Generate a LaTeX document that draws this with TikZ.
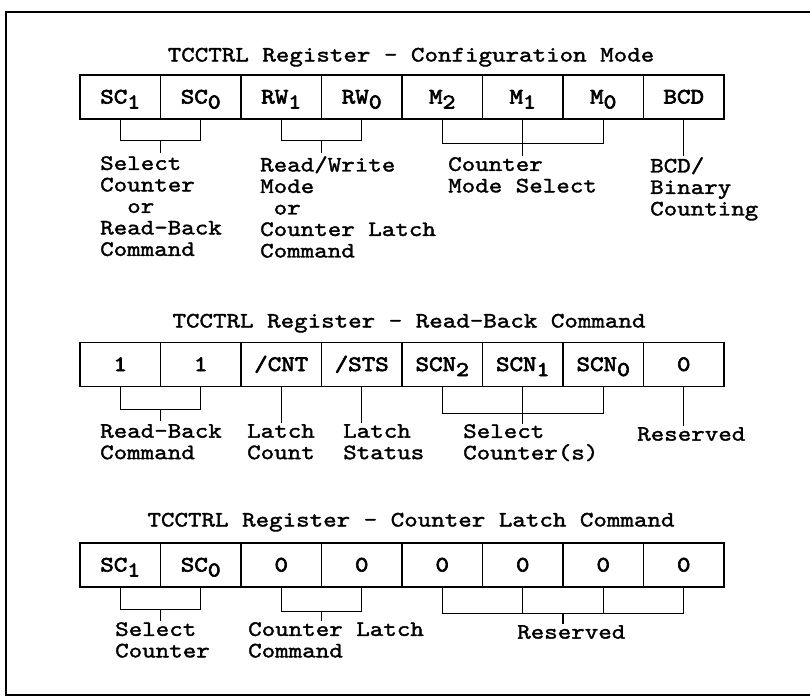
\documentclass[tikz,border=0pt]{standalone}
\usepackage{fontspec}
\newfontfamily\regfam{lmmono10-regular.otf}[FakeStretch=1.17, FakeBold=1.6]
\newfontfamily\bitfam{lmmono10-regular.otf}[FakeStretch=1.17, FakeBold=3]
\usepackage{tikz}
\usetikzlibrary{positioning, calc}
\newcommand{\regfont}{\regfam\fontsize{22}{21.5}\selectfont}
\newcommand{\bitfont}{\bitfam\fontsize{22}{21.5}\selectfont}
\newcommand{\bitsub}[1]{\raisebox{-5pt}{\fontsize{21}{21}\selectfont #1}}
\tikzset{
  bitbox/.style={rectangle, draw, line width=1.3pt,
    minimum width=80.5pt, minimum height=44pt, inner sep=0pt,
    text height=13pt, text depth=0pt, font=\bitfont},
  regtitle/.style={anchor=base, inner sep=0pt, font=\regfont},
  fieldtext/.style={anchor=north west, inner sep=0pt, align=left,
    font=\regfont},
  bracket/.style={line width=1.1pt},
  frameline/.style={line width=1.6pt}
}

\begin{document}
\begin{tikzpicture}[x=1pt, y=-1pt]
  \useasboundingbox (0,0) rectangle (810,697);
  \draw[frameline] (810,12) -- (6,12) -- (6,695) -- (810,695);

  % configuration mode
  \node[regtitle] (cftitle) at (411,61.5) {TCCTRL Register - Configuration Mode};
  \foreach \lbl [count=\i] in {SC\bitsub{1}, SC\bitsub{0}, RW\bitsub{1}, RW\bitsub{0},
      M\bitsub{2}, M\bitsub{1}, M\bitsub{0}, BCD}
    \node[bitbox] (cf\i) at ({39.75+80.5*\i},97) {\lbl};
  \draw[bracket] (cf1.south) -- ++(0,21) -| (cf2.south);
  \draw[bracket] ($(cf1.south)!0.5!(cf2.south)+(0,21)$) -- ++(0,12);
  \draw[bracket] (cf3.south) -- ++(0,21) -| (cf4.south);
  \draw[bracket] ($(cf3.south)!0.5!(cf4.south)+(0,21)$) -- ++(0,12);
  \draw[bracket] (cf5.south) -- ++(0,24) -| (cf7.south);
  \draw[bracket] (cf6.south) -- ++(0,36);
  \draw[bracket] (cf8.south) -- ++(0,36);
  \node[fieldtext] (cfsel) at (100,156) {Select\\Counter\\\ \ or\\Read-Back\\Command};
  \node[fieldtext] (cfrw) at (260,156) {Read/Write\\Mode\\\ or\\Counter Latch\\Command};
  \node[fieldtext] (cfmode) at (448,157) {Counter\\Mode Select};
  \node[fieldtext] (cfbcd) at (650,157) {BCD/\\Binary\\Counting};

  % read-back command
  \node[regtitle] (rbtitle) at (409,327.5) {TCCTRL Register - Read-Back Command};
  \foreach \lbl [count=\i] in {1, 1, /CNT, /STS,
      SCN\bitsub{2}, SCN\bitsub{1}, SCN\bitsub{0}, 0}
    \node[bitbox] (rb\i) at ({39.75+80.5*\i},364.5) {\lbl};
  \draw[bracket] (rb1.south) -- ++(0,22) -| (rb2.south);
  \draw[bracket] ($(rb1.south)!0.5!(rb2.south)+(0,22)$) -- ++(0,12);
  \draw[bracket] (rb3.south) -- ++(0,36);
  \draw[bracket] (rb4.south) -- ++(0,36);
  \draw[bracket] (rb5.south) -- ++(0,26) -| (rb7.south);
  \draw[bracket] (rb6.south) -- ++(0,37);
  \draw[bracket] (rb8.south) -- ++(0,39);
  \node[fieldtext] (rbcmd) at (100,424) {Read-Back\\Command};
  \node[fieldtext] (rbcnt) at (247,424) {Latch\\Count};
  \node[fieldtext] (rbsts) at (343,424) {Latch\\Status};
  \node[fieldtext] (rbsel) at (463,424) {Select\\Counter(s)};
  \node[fieldtext] (rbres) at (637,427) {Reserved};

  % counter latch command
  \node[regtitle] (cltitle) at (411,526.5) {TCCTRL Register - Counter Latch Command};
  \foreach \lbl [count=\i] in {SC\bitsub{1}, SC\bitsub{0}, 0, 0, 0, 0, 0, 0}
    \node[bitbox] (cl\i) at ({39.75+80.5*\i},565) {\lbl};
  \draw[bracket] (cl1.south) -- ++(0,22) -| (cl2.south);
  \draw[bracket] ($(cl1.south)!0.5!(cl2.south)+(0,22)$) -- ++(0,11);
  \draw[bracket] (cl3.south) -- ++(0,24) -| (cl4.south);
  \draw[bracket] ($(cl3.south)!0.5!(cl4.south)+(0,24)$) -- ++(0,9);
  \draw[bracket] (cl5.south) -- ++(0,26) -| (cl8.south);
  \draw[bracket] (cl6.south) -- ++(0,26);
  \draw[bracket] (cl7.south) -- ++(0,26);
  \draw[bracket] ($(cl6.south)!0.5!(cl7.south)+(0,26)$) -- ++(0,10);
  \node[fieldtext] (clsel) at (115,622) {Select\\Counter};
  \node[fieldtext] (clcmd) at (248,622) {Counter Latch\\Command};
  \node[fieldtext] (clres) at (517,625) {Reserved};
\end{tikzpicture}
\end{document}
